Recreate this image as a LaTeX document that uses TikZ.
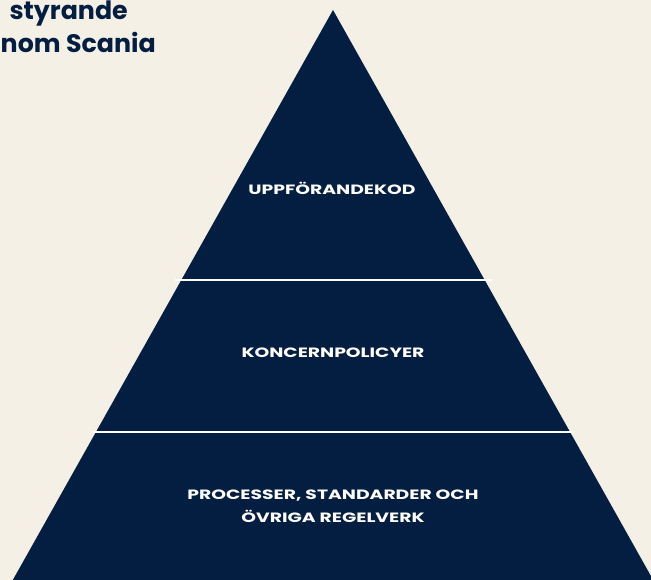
\documentclass[tikz,border=0pt]{standalone}
\usepackage{fontspec}
\newfontfamily\headfont{Poppins}
\newfontfamily\tierfont[FakeStretch=1.39]{Poppins}
\definecolor{navy}{HTML}{031E41}
\definecolor{paper}{HTML}{F5F0E6}

\begin{document}
\begin{tikzpicture}[x=1pt, y=-1pt,
    tier/.style={text=white, font=\tierfont\bfseries\fontsize{13.5}{22.5}\selectfont, align=center, inner sep=0pt},
    head/.style={text=navy, font=\headfont\bfseries\fontsize{25.3}{30}\selectfont, inner sep=0pt, anchor=base east},
    divider/.style={draw=white, line width=2pt}]
    \fill[paper] (0,0) rectangle (651,580);
    \useasboundingbox (0,0) rectangle (651,580);

    % pyramid
    \coordinate (TOP) at (333,10);
    \coordinate (BL) at (10,585);
    \coordinate (BR) at (656,585);
    \fill[navy] (TOP) -- (BL) -- (BR) -- cycle;

    % dividers
    \coordinate (D1L) at (175,280);
    \coordinate (D1R) at (492,280);
    \coordinate (D2L) at (93,432);
    \coordinate (D2R) at (573,432);
    \draw[divider] (D1L) -- (D1R);
    \draw[divider] (D2L) -- (D2R);

    % tier labels
    \node[tier] (KOD) at (332,188) {UPPFÖRANDEKOD};
    \node[tier] (POL) at (333,353) {KONCERNPOLICYER};
    \node[tier] (REG) at (333,506) {PROCESSER, STANDARDER OCH\\ÖVRIGA REGELVERK};

    % heading, cut off at the left
    \node[head] (H1) at (128,20) {styrande};
    \node[head] (H2) at (156,53) {nom Scania};
\end{tikzpicture}
\end{document}
